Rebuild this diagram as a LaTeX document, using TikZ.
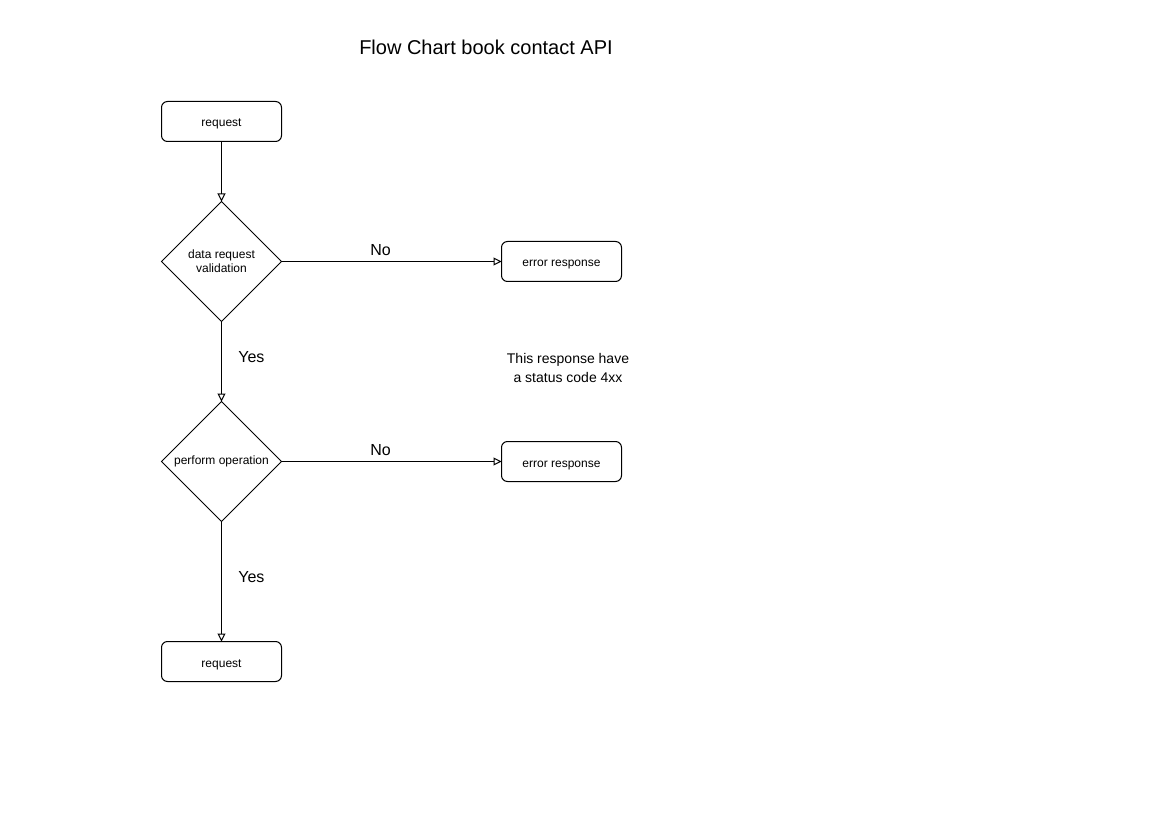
\documentclass[tikz,border=0pt]{standalone}
\usepackage{fontspec}
\setmainfont{Liberation Sans}
\usetikzlibrary{shapes.geometric,arrows.meta}

\begin{document}
\begin{tikzpicture}[x=1pt,y=1pt,line width=1pt,
    box/.style = {rectangle,
        draw,
        rounded corners=6pt,
        minimum width=120pt,
        minimum height=40pt,
        inner sep=0pt,
        outer sep=0pt,
        text height=11pt,
        text depth=0pt,
        font=\fontsize{12}{14}\selectfont},
    decision/.style = {diamond,
        draw,
        minimum width=120pt,
        minimum height=120pt,
        inner sep=0pt,
        outer sep=0pt,
        align=center,
        font=\fontsize{12}{14}\selectfont},
    flow/.style = {-{Triangle[open,length=8pt,width=8pt]}},
    answer/.style = {font=\fontsize{16}{19}\selectfont}]

\useasboundingbox (0,0) rectangle (1171,-829);

% Title
\node[font=\fontsize{20}{24}\selectfont] (title) at (486,-47) {Flow Chart book contact API};

% Start
\node[box] (request) at (221.5,-121.5) {request};

% Validation
\node[decision] (validation) at (221.5,-261.5) {data request\\validation};
\node[box] (error1) at (561.5,-261.5) {error response};

% Operation
\node[decision] (operation) at (221.5,-461.5) {perform operation};
\node[box] (error2) at (561.5,-461.5) {error response};

% End
\node[box] (response) at (221.5,-661.5) {request};

% Note
\node[align=center,font=\fontsize{14}{19}\selectfont] (note) at (568,-368) {This response have\\a status code 4xx};

% Arrows
\draw[flow] (request) -- (validation);
\draw[flow] (validation) -- node[answer,pos=0.45,above=2pt] (no1) {No} (error1);
\draw[flow] (validation) -- node[answer,pos=0.45,right=13pt] (yes1) {Yes} (operation);
\draw[flow] (operation) -- node[answer,pos=0.45,above=2pt] (no2) {No} (error2);
\draw[flow] (operation) -- node[answer,pos=0.467,right=13pt] (yes2) {Yes} (response);

\end{tikzpicture}
\end{document}
